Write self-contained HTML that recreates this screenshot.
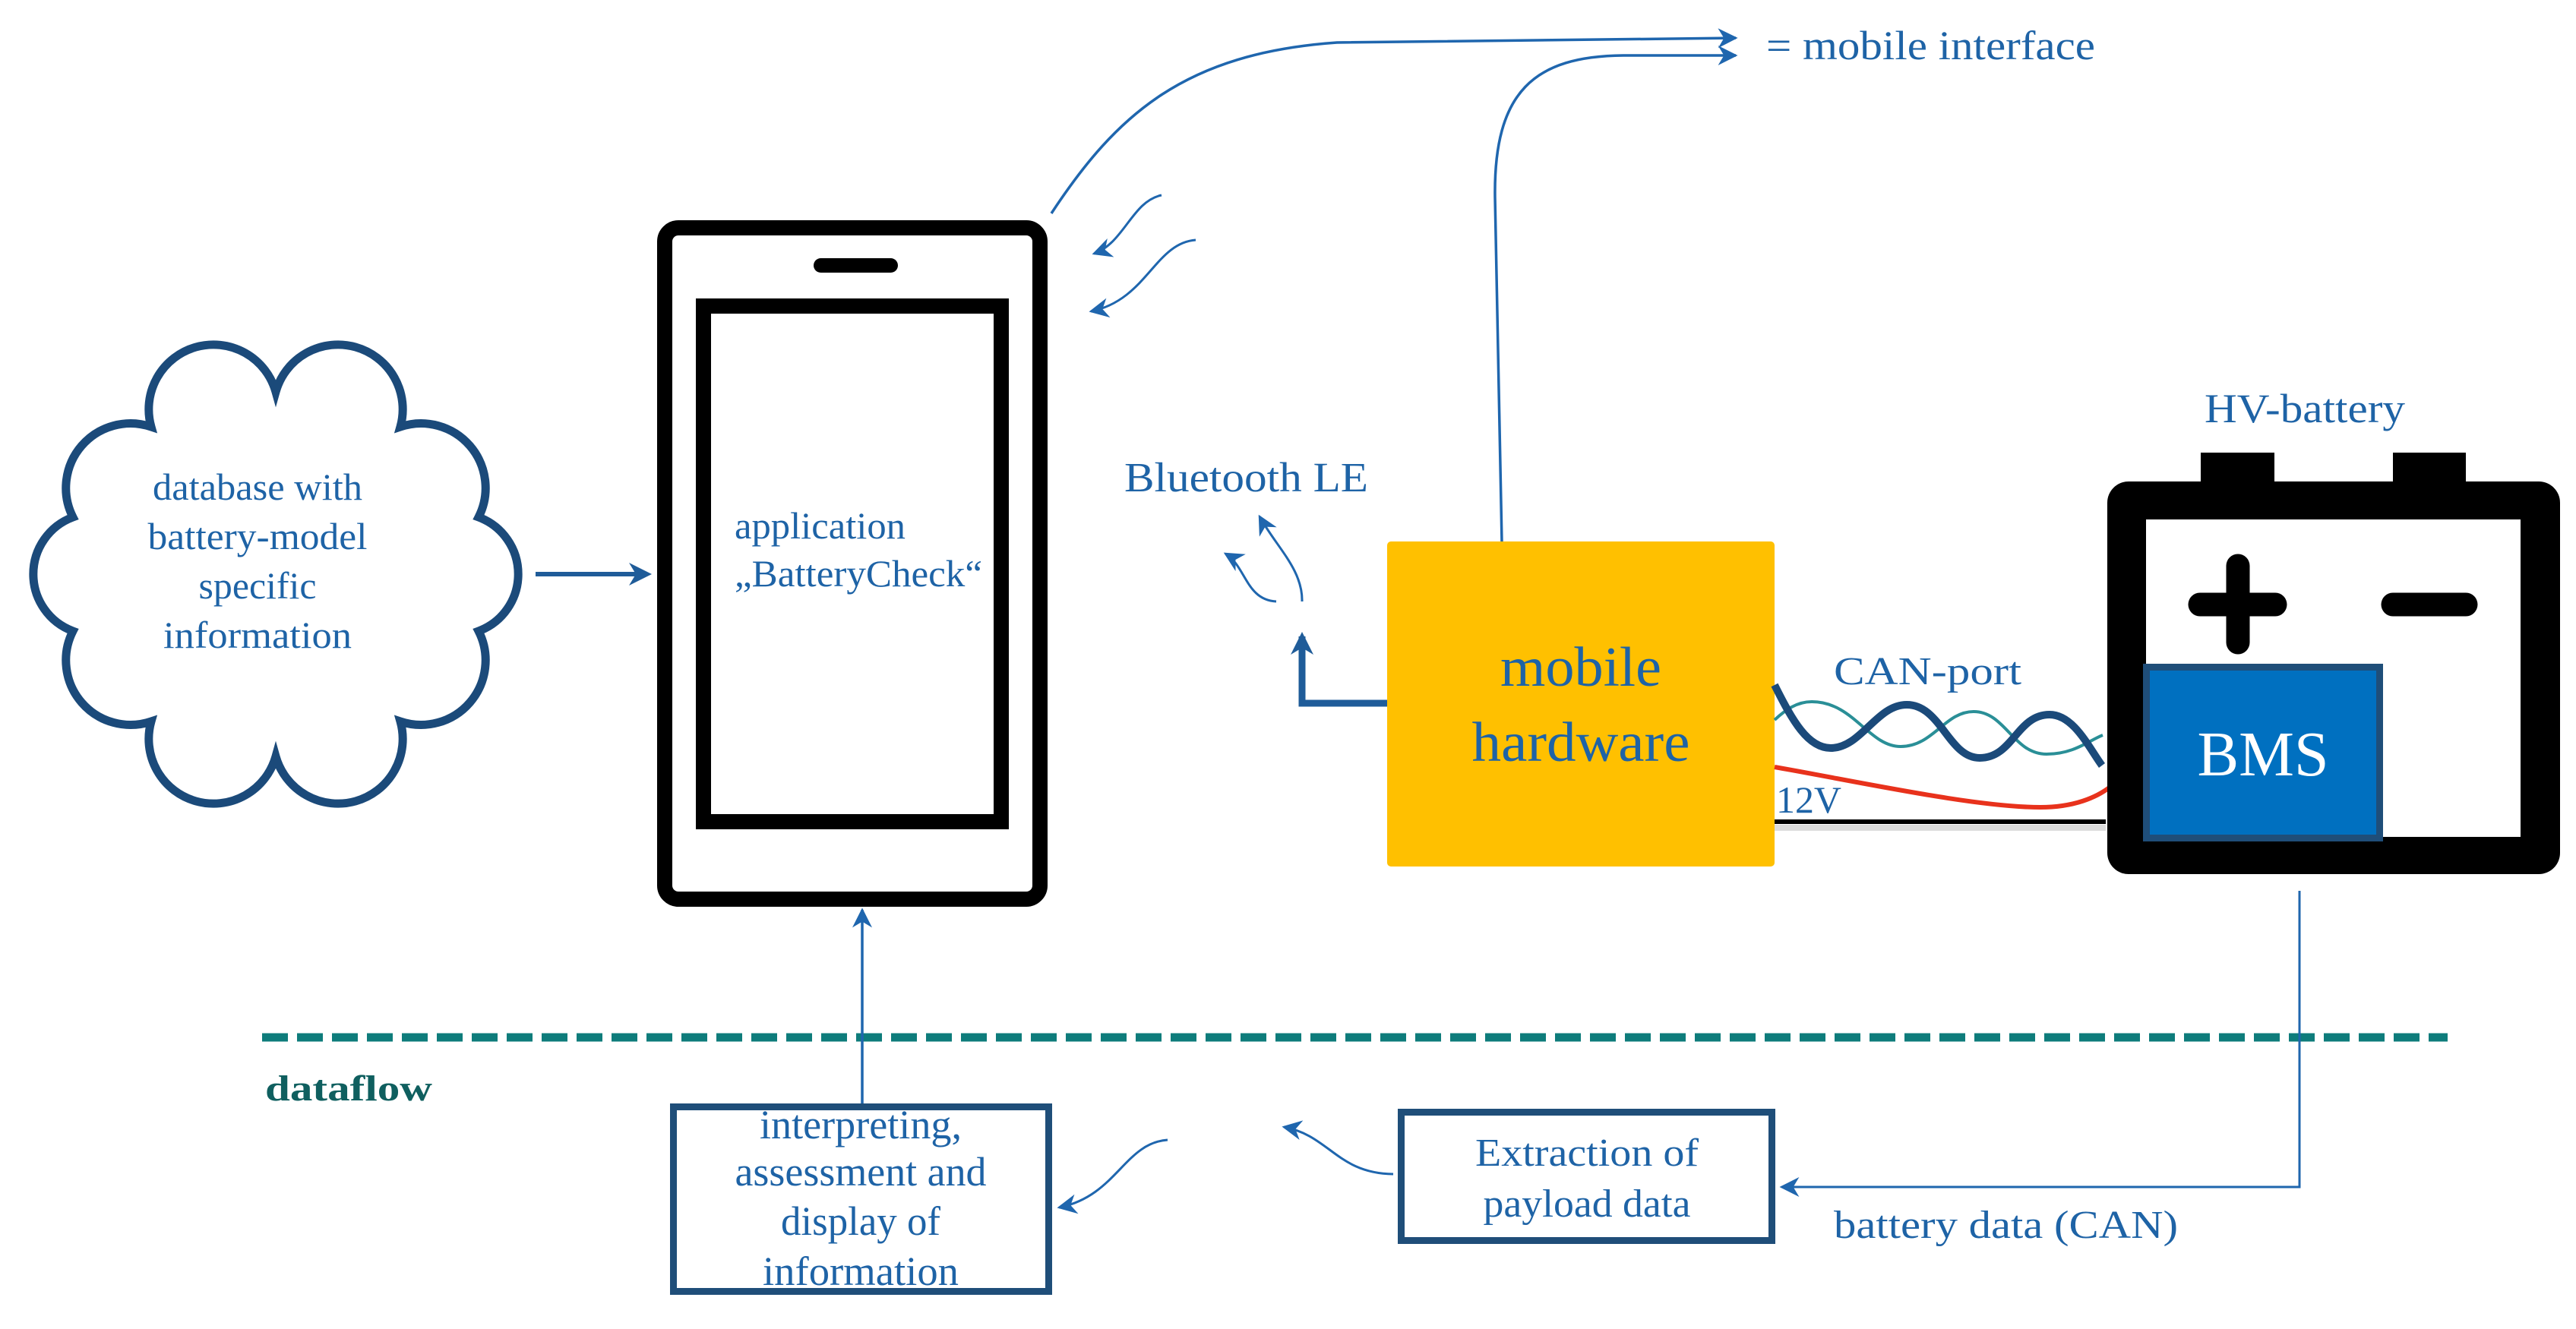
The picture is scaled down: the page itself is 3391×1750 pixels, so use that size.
<!DOCTYPE html>
<html><head><meta charset="utf-8"><style>
html,body{margin:0;padding:0;background:#fff;}
svg{display:block;}
text{font-family:"Liberation Serif",serif;fill:#1E63A6;}
</style></head><body>
<svg width="3391" height="1750" viewBox="0 0 3391 1750" xmlns="http://www.w3.org/2000/svg">
<defs>
<marker id="ah" viewBox="0 0 10 10" refX="9" refY="5" markerWidth="26" markerHeight="26" markerUnits="userSpaceOnUse" orient="auto">
<path d="M0,0 L10,5 L0,10 L3,5 z" fill="#1F66AE"/></marker>
<marker id="ah2" viewBox="0 0 10 10" refX="8" refY="5" markerWidth="30" markerHeight="30" markerUnits="userSpaceOnUse" orient="auto">
<path d="M0,0 L10,5 L0,10 L3,5 z" fill="#1F5C99"/></marker>
</defs>

<!-- cloud -->
<path d="M363,516 A85,85 0 0 1 527,562 A85,85 0 0 1 630,681 A80,80 0 0 1 630,831 A85,85 0 0 1 527,950 A85,85 0 0 1 363,996 A85,85 0 0 1 199,950 A85,85 0 0 1 96,831 A80,80 0 0 1 96,681 A85,85 0 0 1 199,562 A85,85 0 0 1 363,516 Z" fill="none" stroke="#1B4A7A" stroke-width="11"/>
<g text-anchor="middle" font-size="50" lengthAdjust="spacingAndGlyphs">
<text x="339" y="658" textLength="276" lengthAdjust="spacingAndGlyphs">database with</text>
<text x="339" y="723" textLength="289" lengthAdjust="spacingAndGlyphs">battery-model</text>
<text x="339" y="788" textLength="155" lengthAdjust="spacingAndGlyphs">specific</text>
<text x="339" y="853" textLength="248" lengthAdjust="spacingAndGlyphs">information</text>
</g>
<path d="M705,756 L852,756" stroke="#1F5C99" stroke-width="6" fill="none" marker-end="url(#ah2)"/>

<!-- phone -->
<rect x="875" y="300" width="494" height="884" rx="18" fill="none" stroke="#000" stroke-width="20"/>
<rect x="926" y="403" width="392" height="679" fill="none" stroke="#000" stroke-width="20"/>
<rect x="1071" y="340" width="111" height="19" rx="9.5" fill="#000"/>
<text x="967" y="709" font-size="50" textLength="225" lengthAdjust="spacingAndGlyphs">application</text>
<text x="967" y="772" font-size="50" textLength="326" lengthAdjust="spacingAndGlyphs">„BatteryCheck“</text>

<!-- top curves -->
<path d="M1384,281 C1470,150 1560,70 1760,56 L2285,50" fill="none" stroke="#1F66AE" stroke-width="3.5" marker-end="url(#ah)"/>
<path d="M1977,714 L1968,260 C1966,120 2020,74 2137,73 L2285,73" fill="none" stroke="#1F66AE" stroke-width="3.5" marker-end="url(#ah)"/>
<text x="2325" y="78" font-size="54" textLength="433" lengthAdjust="spacingAndGlyphs">= mobile interface</text>

<!-- small wireless arrows near phone -->
<path d="M1529,257 C1490,265 1480,320 1440,334" fill="none" stroke="#1F66AE" stroke-width="3" marker-end="url(#ah)"/>
<path d="M1574,316 C1520,320 1510,395 1436,410" fill="none" stroke="#1F66AE" stroke-width="3" marker-end="url(#ah)"/>

<!-- Bluetooth -->
<text x="1480" y="647" font-size="55" textLength="321" lengthAdjust="spacingAndGlyphs">Bluetooth LE</text>
<path d="M1714,792 C1715,750 1680,720 1658,680" fill="none" stroke="#1F66AE" stroke-width="3" marker-end="url(#ah)"/>
<path d="M1680,792 C1640,790 1640,745 1613,729" fill="none" stroke="#1F66AE" stroke-width="3" marker-end="url(#ah)"/>
<path d="M1828,926 L1714,926 L1714,838" fill="none" stroke="#1F5C99" stroke-width="9" marker-end="url(#ah2)"/>

<!-- mobile hardware -->
<rect x="1826" y="713" width="510" height="428" rx="5" fill="#FFC000"/>
<g text-anchor="middle" font-size="74">
<text x="2081" y="903" textLength="212" lengthAdjust="spacingAndGlyphs">mobile</text>
<text x="2081" y="1002" textLength="287" lengthAdjust="spacingAndGlyphs">hardware</text>
</g>

<!-- cables -->
<text x="2414" y="901" font-size="52" textLength="247" lengthAdjust="spacingAndGlyphs">CAN-port</text>
<path d="M2336,948 C2350,935 2365,924 2385,924 C2440,924 2460,983 2502,983 C2545,983 2560,937 2598,937 C2640,937 2650,993 2694,993 C2730,993 2750,975 2768,968" fill="none" stroke="#2A8F97" stroke-width="4"/>
<path d="M2336,902 C2360,950 2380,985 2410,985 C2450,985 2470,928 2510,928 C2555,928 2565,998 2606,998 C2650,998 2655,941 2698,941 C2730,941 2750,985 2767,1008" fill="none" stroke="#1B4A7A" stroke-width="10"/>
<path d="M2336,1010 C2450,1030 2600,1063 2686,1063 C2730,1063 2760,1050 2778,1036" fill="none" stroke="#E8321C" stroke-width="6"/>
<path d="M2336,1090 L2772,1090" stroke="#ddd" stroke-width="8"/>
<path d="M2336,1082 L2772,1082" stroke="#000" stroke-width="6"/>
<text x="2338" y="1070" font-size="50" textLength="86" lengthAdjust="spacingAndGlyphs">12V</text>

<!-- battery -->
<text x="2902" y="556" font-size="54" textLength="264" lengthAdjust="spacingAndGlyphs">HV-battery</text>
<rect x="2897" y="596" width="97" height="44" fill="#000"/>
<rect x="3150" y="596" width="96" height="44" fill="#000"/>
<rect x="2774" y="634" width="596" height="517" rx="28" fill="#000"/>
<rect x="2825" y="684" width="493" height="418" fill="#fff"/>
<path d="M2896,796 L2995,796 M2946,745 L2946,846 M3150,796 L3246,796" stroke="#000" stroke-width="31" stroke-linecap="round"/>
<rect x="2825.5" y="878.5" width="307" height="225" fill="#0070C0" stroke="#1F4E79" stroke-width="9"/>
<text x="2979" y="1021" font-size="84" text-anchor="middle" textLength="173" lengthAdjust="spacingAndGlyphs" style="fill:#fff">BMS</text>

<!-- dataflow -->
<path d="M345,1366 L3222,1366" stroke="#0E7C7B" stroke-width="11" stroke-dasharray="34 12"/>
<text x="349" y="1449" font-size="48" font-weight="bold" textLength="220" lengthAdjust="spacingAndGlyphs" style="fill:#0F5F5F">dataflow</text>

<path d="M1135,1453 L1135,1198" stroke="#1F66AE" stroke-width="3.5" fill="none" marker-end="url(#ah)"/>
<rect x="886.5" y="1457.5" width="494" height="243" fill="#fff" stroke="#1F4E79" stroke-width="9"/>
<g text-anchor="middle" font-size="54">
<text x="1133" y="1499" textLength="266" lengthAdjust="spacingAndGlyphs">interpreting,</text>
<text x="1133" y="1561" textLength="331" lengthAdjust="spacingAndGlyphs">assessment and</text>
<text x="1133" y="1626" textLength="210" lengthAdjust="spacingAndGlyphs">display of</text>
<text x="1133" y="1692" textLength="258" lengthAdjust="spacingAndGlyphs">information</text>
</g>
<path d="M1537,1501 C1480,1505 1470,1575 1394,1590" fill="none" stroke="#1F66AE" stroke-width="3" marker-end="url(#ah)"/>

<rect x="1844.5" y="1464.5" width="488" height="169" fill="#fff" stroke="#1F4E79" stroke-width="9"/>
<g text-anchor="middle" font-size="52">
<text x="2089" y="1535" textLength="294" lengthAdjust="spacingAndGlyphs">Extraction of</text>
<text x="2089" y="1602" textLength="273" lengthAdjust="spacingAndGlyphs">payload data</text>
</g>
<path d="M1834,1546 C1760,1545 1750,1495 1690,1484" fill="none" stroke="#1F66AE" stroke-width="3" marker-end="url(#ah)"/>
<path d="M3027,1173 L3027,1563 L2345,1563" fill="none" stroke="#1F66AE" stroke-width="3" marker-end="url(#ah)"/>
<text x="2414" y="1630" font-size="52" textLength="453" lengthAdjust="spacingAndGlyphs">battery data (CAN)</text>
</svg>
</body></html>
